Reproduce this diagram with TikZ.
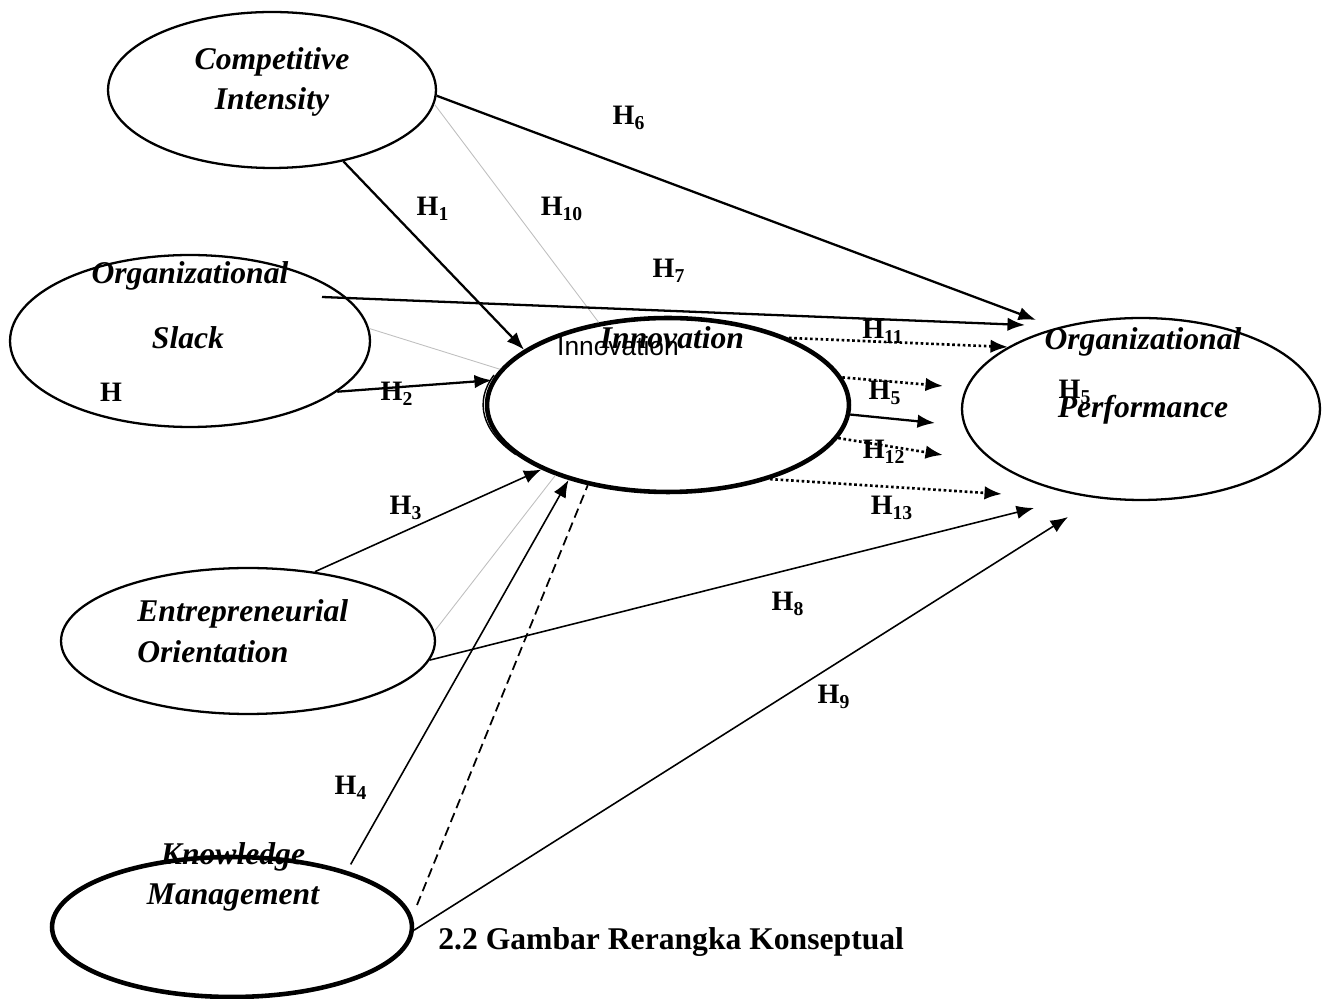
\documentclass[tikz,border=0pt]{standalone}
\usepackage{fontspec}
\setmainfont{Liberation Serif}
\newfontfamily\arialfont{Liberation Sans}
\usetikzlibrary{shapes,arrows.meta}

\begin{document}
\begin{tikzpicture}[x=0.02cm,y=-0.02cm,
  var/.style={draw,ellipse,line width=1.3pt,inner sep=0pt},
  bigvar/.style={var,line width=2.6pt},
  vname/.style={font=\fontsize{18}{23}\selectfont\bfseries\itshape,inner sep=0pt},
  hlab/.style={font=\fontsize{16}{18}\selectfont\bfseries,inner sep=0pt},
  hyp/.style={-{Latex[length=0.35cm,width=0.27cm]},line width=1.3pt},
  thinhyp/.style={hyp,line width=0.9pt},
  dotarrow/.style={hyp,line width=1.5pt,dash pattern=on 1.5pt off 1.5pt},
  ghost/.style={black!25,line width=0.5pt}]
\useasboundingbox (0,0) rectangle (1330,999);

% constructs
\node[var,minimum width=6.56cm,minimum height=3.12cm] (ci) at (272,90) {};
\node[var,minimum width=7.2cm,minimum height=3.44cm] (os) at (190,341) {};
\node[bigvar,minimum width=7.24cm,minimum height=3.48cm] (inno) at (668,405) {};
\node[var,minimum width=7.16cm,minimum height=3.64cm] (op) at (1141,409) {};
\node[var,minimum width=7.48cm,minimum height=2.92cm] (eo) at (248,641) {};
\node[bigvar,minimum width=7.2cm,minimum height=2.8cm] (km) at (232,927) {};
\draw[line width=0.8pt] (494,375) arc[start angle=160,end angle=215,x radius=3.62cm,y radius=1.74cm];

\node[vname,align=center] (ciname) at (272,82) {Competitive\\Intensity};
\node[vname] (osnamea) at (190,276) {Organizational};
\node[vname] (osnameb) at (188,338) {Slack};
\node[inner sep=0pt,font=\arialfont\fontsize{15}{18}\selectfont] (innoarial) at (618,346) {Innovation};
\node[vname] (innoname) at (672,338) {Innovation};
\node[vname] (opnamea) at (1143,342) {Organizational};
\node[vname] (opnameb) at (1143,410) {Performance};
\node[vname,align=left,anchor=west] (eoname) at (137,631) {Entrepreneurial\\Orientation};
\node[vname,align=center] (kmname) at (233,877) {Knowledge\\Management};

% free ends
\coordinate (h7start) at (322,297);
\coordinate (h6end) at (1036,320);
\coordinate (h7end) at (1025,325);
\coordinate (h11end) at (1008,347);
\coordinate (h5end) at (943,386);
\coordinate (hsolidend) at (935,423);
\coordinate (h12end) at (943,455);
\coordinate (h13end) at (1002,494);
\coordinate (h8end) at (1034,508);
\coordinate (h9end) at (1068,517);
\coordinate (dashend) at (417,905);

\draw[hyp] (ci.-45) -- (inno.159);
\draw[ghost] (ci.-5) -- (inno.130);
\draw[hyp] (ci.-2) -- (h6end);
\draw[hyp] (h7start) -- (h7end);
\draw[ghost] (os.4) -- (inno.168);
\draw[hyp] (os.-19) -- (inno.172);
\draw[thinhyp] (eo.46) -- (inno.207);
\draw[ghost] (eo.3) -- (inno.212);
\draw[thinhyp] (eo.-6) -- (h8end);
\draw[thinhyp,shorten <=0.15cm] (km.26) -- (inno.217);
\draw[line width=1pt,dash pattern=on 5.5pt off 3pt] (dashend) -- (inno.225);
\draw[thinhyp] (km.-1) -- (h9end);
\draw[dotarrow] (inno.29) -- (h11end);
\draw[dotarrow] (inno.9) -- (h5end);
\draw[hyp] (inno.-3) -- (hsolidend);
\draw[dotarrow] (inno.-11) -- (h12end);
\draw[dotarrow] (inno.-36) -- (h13end);

% hypothesis labels
\node[hlab] (h1) at (433,209) {H\textsubscript{1}};
\node[hlab] (h10) at (562,209) {H\textsubscript{10}};
\node[hlab] (h6) at (629,118) {H\textsubscript{6}};
\node[hlab] (h7) at (669,271) {H\textsubscript{7}};
\node[hlab] (h11) at (883,332) {H\textsubscript{11}};
\node[hlab] (h2) at (397,394) {H\textsubscript{2}};
\node[hlab] (hlone) at (111,392) {H};
\node[hlab] (h5) at (885,393) {H\textsubscript{5}};
\node[hlab] (h12) at (884,452) {H\textsubscript{12}};
\node[hlab] (h13) at (892,508) {H\textsubscript{13}};
\node[hlab] (h5b) at (1075,392) {H\textsubscript{5}};
\node[hlab] (h3) at (406,508) {H\textsubscript{3}};
\node[hlab] (h8) at (788,604) {H\textsubscript{8}};
\node[hlab] (h9) at (834,697) {H\textsubscript{9}};
\node[hlab] (h4) at (351,788) {H\textsubscript{4}};

\node[anchor=west,inner sep=0pt,font=\fontsize{18}{22}\selectfont\bfseries] (caption) at (438,942) {2.2 Gambar Rerangka Konseptual};
\end{tikzpicture}
\end{document}
